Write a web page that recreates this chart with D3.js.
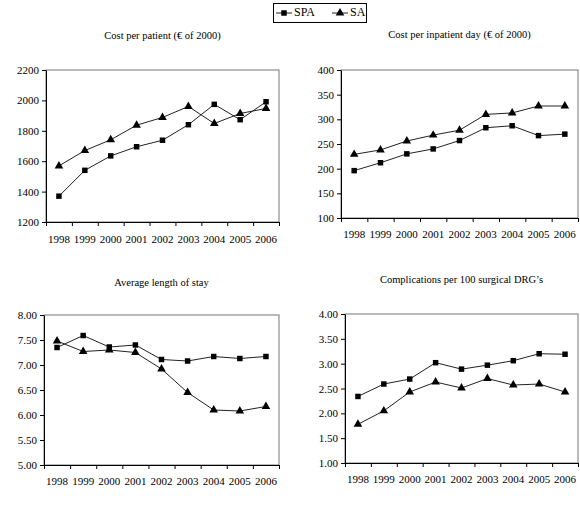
<!DOCTYPE html>
<html>
<head>
<meta charset="utf-8">
<script src="https://cdn.jsdelivr.net/npm/d3@7"></script>
<style>
    body { margin: 0; background: #fff; }
    svg { display: block; font-family: 'Liberation Serif', 'Times New Roman', serif; }
    .tick text { fill: #000; }
</style>
</head>
<body>
<div id="chart"></div>
<script>
'use strict';

// Data
const years = ['1998', '1999', '2000', '2001', '2002', '2003', '2004', '2005', '2006'];
const seriesNames = ['SPA', 'SA'];

const costPatientSPA = [1370, 1540, 1635, 1695, 1738, 1840, 1974, 1873, 1991];
const costPatientSA = [1569, 1670, 1741, 1837, 1888, 1960, 1848, 1914, 1947];
const costPatientTicks = [1200, 1400, 1600, 1800, 2000, 2200];

const costDaySPA = [196, 212, 230, 240, 257, 283, 287, 267, 270];
const costDaySA = [229, 238, 256, 268, 278, 310, 313, 327, 327];
const costDayTicks = [100, 150, 200, 250, 300, 350, 400];

const stayLengthSPA = [7.35, 7.59, 7.36, 7.40, 7.11, 7.08, 7.17, 7.13, 7.17];
const stayLengthSA = [7.48, 7.27, 7.30, 7.25, 6.92, 6.45, 6.10, 6.08, 6.17];
const stayLengthTicks = [5.0, 5.5, 6.0, 6.5, 7.0, 7.5, 8.0];

const complicationsSPA = [2.34, 2.59, 2.69, 3.02, 2.89, 2.97, 3.06, 3.20, 3.19];
const complicationsSA = [1.78, 2.05, 2.43, 2.63, 2.51, 2.70, 2.57, 2.59, 2.43];
const complicationsTicks = [1.0, 1.5, 2.0, 2.5, 3.0, 3.5, 4.0];

// Svg
const svg = d3.select('#chart')
    .append('svg')
    .attr('width', 580)
    .attr('height', 521);

const font = "'Liberation Serif', 'Times New Roman', serif";
const symbols = [d3.symbolSquare, d3.symbolTriangle];

class LinePanel {

    constructor(_cfg) {
        this.cfg = _cfg;
        this.initVis();
    }

    initVis() {
        const vis = this;
        const c = vis.cfg;

        vis.g = svg.append('g');

        // Title
        vis.g.append('text')
            .attr('x', (c.x0 + c.x1) / 2)
            .attr('y', c.titleY)
            .attr('text-anchor', 'middle')
            .attr('dominant-baseline', 'middle')
            .style('font-size', '10.5px')
            .text(c.title);

        // Scales
        vis.xScale = d3.scaleBand()
            .domain(years)
            .range([c.x0, c.x1]);
        vis.edgeScale = d3.scaleLinear()
            .domain([0, years.length])
            .range([c.x0, c.x1]);
        vis.yScale = d3.scaleLinear()
            .domain(d3.extent(c.ticks))
            .range([c.y1, c.y0]);

        // Frame
        vis.g.append('rect')
            .attr('x', c.x0)
            .attr('y', c.y0)
            .attr('width', c.x1 - c.x0)
            .attr('height', c.y1 - c.y0)
            .attr('fill', 'none')
            .attr('stroke', '#777')
            .attr('stroke-width', 1);

        // Y axis
        vis.g.append('g')
            .attr('transform', `translate(${c.x0},0)`)
            .call(d3.axisLeft(vis.yScale)
                .tickValues(c.ticks)
                .tickFormat(c.format)
                .tickSize(4)
                .tickSizeOuter(0)
                .tickPadding(3))
            .attr('font-family', font)
            .attr('font-size', 11);

        // X tick marks at band edges
        vis.g.append('g')
            .attr('transform', `translate(0,${c.y1})`)
            .call(d3.axisBottom(vis.edgeScale)
                .tickValues(d3.range(years.length + 1))
                .tickFormat('')
                .tickSize(4)
                .tickSizeOuter(0));

        // X labels
        const xAxis = vis.g.append('g')
            .attr('transform', `translate(0,${c.y1})`)
            .call(d3.axisBottom(vis.xScale)
                .tickSize(0)
                .tickPadding(c.labelPad))
            .attr('font-family', font)
            .attr('font-size', 11);
        xAxis.select('.domain').remove();

        vis.g.selectAll('.domain').attr('stroke', '#000');

        vis.updateVis();
    }

    updateVis() {
        const vis = this;
        const cx = i => vis.xScale(years[i]) + vis.xScale.bandwidth() / 2;

        const line = d3.line()
            .x((d, i) => cx(i))
            .y(d => vis.yScale(d));

        vis.cfg.series.forEach((s, si) => {
            vis.g.append('path')
                .datum(s)
                .attr('fill', 'none')
                .attr('stroke', '#222')
                .attr('stroke-width', 1)
                .attr('d', line);

            vis.g.selectAll(`.m${si}`)
                .data(s)
                .join('path')
                .attr('class', `m${si}`)
                .attr('transform', (d, i) => `translate(${cx(i)},${vis.yScale(d)})`)
                .attr('d', d3.symbol(symbols[si], si === 0 ? 30 : 32))
                .attr('fill', '#000');
        });
    }
}

const fmtInt = d3.format('d');
const fmtDec = d3.format('.2f');

new LinePanel({
    title: 'Cost per patient (€ of 2000)', series: [costPatientSPA, costPatientSA], ticks: costPatientTicks, format: fmtInt,
    x0: 46, x1: 279, y0: 70, y1: 222, titleY: 37, labelPad: 13
});
new LinePanel({
    title: 'Cost per inpatient day (€ of 2000)', series: [costDaySPA, costDaySA], ticks: costDayTicks, format: fmtInt,
    x0: 341, x1: 578, y0: 70, y1: 218, titleY: 36, labelPad: 12
});
new LinePanel({
    title: 'Average length of stay', series: [stayLengthSPA, stayLengthSA], ticks: stayLengthTicks, format: fmtDec,
    x0: 44, x1: 279, y0: 315, y1: 465, titleY: 284, labelPad: 12
});
new LinePanel({
    title: 'Complications per 100 surgical DRG\u2019s', series: [complicationsSPA, complicationsSA], ticks: complicationsTicks, format: fmtDec,
    x0: 345, x1: 578, y0: 314, y1: 463, titleY: 281, labelPad: 12
});

// Legend
const legendG = svg.append('g');
legendG.append('rect')
    .attr('x', 273.5)
    .attr('y', 3.5)
    .attr('width', 93)
    .attr('height', 19)
    .attr('fill', '#fff')
    .attr('stroke', '#000');

const legendX = [276, 332];
seriesNames.forEach((name, i) => {
    const lx = legendX[i];
    legendG.append('line')
        .attr('x1', lx).attr('x2', lx + 16)
        .attr('y1', 13).attr('y2', 13)
        .attr('stroke', '#222');
    legendG.append('path')
        .attr('transform', `translate(${lx + 8},13)`)
        .attr('d', d3.symbol(symbols[i], i === 0 ? 30 : 32))
        .attr('fill', '#000');
    legendG.append('text')
        .attr('x', lx + 18)
        .attr('y', 13)
        .attr('dominant-baseline', 'middle')
        .style('font-size', '12px')
        .text(name);
});
</script>
</body>
</html>
